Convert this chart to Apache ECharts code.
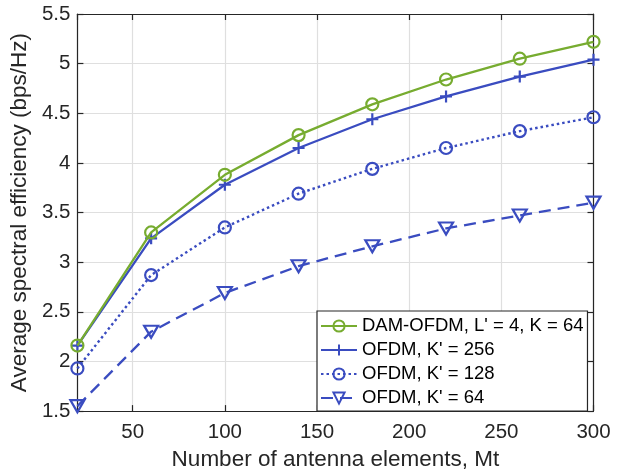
<!DOCTYPE html>
<html>
<head>
<meta charset="utf-8">
<script src="https://cdn.jsdelivr.net/npm/echarts@6/dist/echarts.min.js"></script>
<style>
html,body{margin:0;padding:0;background:#fff;}
#chart{width:618px;height:476px;}
</style>
</head>
<body>
<div id="chart"></div>
<script>
const antennas = [20, 60, 100, 140, 180, 220, 260, 300];
const damOfdm = [2.16, 3.30, 3.88, 4.28, 4.59, 4.84, 5.05, 5.22];
const ofdm256 = [2.16, 3.24, 3.78, 4.15, 4.44, 4.67, 4.87, 5.04];
const ofdm128 = [1.93, 2.87, 3.35, 3.69, 3.94, 4.15, 4.32, 4.46];
const ofdm64  = [1.55, 2.30, 2.69, 2.96, 3.16, 3.34, 3.47, 3.60];
const seriesNames = ["DAM-OFDM, L' = 4, K = 64", "OFDM, K' = 256", "OFDM, K' = 128", "OFDM, K' = 64"];

const green = '#77AC30';
const blue = '#3A4CC0';
const ink = '#262626';
const font = "'Liberation Sans', Arial, Helvetica, sans-serif";

function pairs(ys){ return antennas.map((x,i)=>[x, ys[i]]); }

const chart = echarts.init(document.getElementById('chart'), null, {renderer:'canvas'});

const frameAxis = {
  axisLine:{show:true, onZero:false, lineStyle:{color:ink, width:1.2}},
  axisTick:{show:true, inside:true, length:6, lineStyle:{color:ink, width:1.2}},
};

const option = {
  backgroundColor:'#fff',
  animation:false,
  grid:{left:73, right:24.5, top:14, bottom:59, containLabel:false},
  xAxis:[{
    type:'value', min:20, max:300, minInterval:50, maxInterval:50, splitNumber:5,
    name:'Number of antenna elements, Mt', nameLocation:'middle', nameGap:36,
    nameTextStyle:{color:ink, fontSize:22.5, fontFamily:font},
    ...frameAxis,
    axisLabel:{color:ink, fontSize:20.5, fontFamily:font, margin:11, showMinLabel:false},
    splitLine:{show:true, lineStyle:{color:'#dfdfdf', width:1.2}}
  },{
    type:'value', position:'top', min:20, max:300, minInterval:50, maxInterval:50, splitNumber:5,
    ...frameAxis,
    axisLabel:{show:false}, splitLine:{show:false}
  }],
  yAxis:[{
    type:'value', min:1.5, max:5.5, interval:0.5,
    name:'Average spectral efficiency (bps/Hz)', nameLocation:'middle', nameGap:40,
    nameTextStyle:{color:ink, fontSize:22.5, fontFamily:font},
    ...frameAxis,
    axisLabel:{color:ink, fontSize:20.5, fontFamily:font, margin:7},
    splitLine:{show:true, lineStyle:{color:'#dfdfdf', width:1.2}}
  },{
    type:'value', position:'right', min:1.5, max:5.5, interval:0.5,
    ...frameAxis,
    axisLabel:{show:false}, splitLine:{show:false}
  }],
  legend:{
    orient:'vertical', left:317, top:311,
    padding:[5,4,3,3], itemGap:4, itemWidth:36, itemHeight:14,
    backgroundColor:'#fff', borderColor:ink, borderWidth:1.2, borderRadius:0,
    textStyle:{color:'#000', fontSize:18.5, fontFamily:font, lineHeight:20},
    data:seriesNames
  },
  series:[
    {
      name:seriesNames[0], type:'line', data:pairs(damOfdm),
      symbol:'circle', symbolSize:12,
      lineStyle:{color:green, width:2.3},
      itemStyle:{color:'none', borderColor:green, borderWidth:2.2},
      z:5
    },
    {
      name:seriesNames[1], type:'line', data:pairs(ofdm256),
      symbol:'path://M0,5 L10,5 M5,0 L5,10', symbolSize:12,
      lineStyle:{color:blue, width:2.3},
      itemStyle:{color:'none', borderColor:blue, borderWidth:2.2},
      z:4
    },
    {
      name:seriesNames[2], type:'line', data:pairs(ofdm128),
      symbol:'circle', symbolSize:12,
      lineStyle:{color:blue, width:2.4, type:[2.5,3]},
      itemStyle:{color:'none', borderColor:blue, borderWidth:2.2},
      z:3
    },
    {
      name:seriesNames[3], type:'line', data:pairs(ofdm64),
      symbol:'path://M0,0 L12,0 L6,10 Z', symbolSize:[14,12],
      lineStyle:{color:blue, width:2.3, type:[12,7]},
      itemStyle:{color:'none', borderColor:blue, borderWidth:2.2},
      z:2
    }
  ]
};
chart.setOption(option);
</script>
</body>
</html>
